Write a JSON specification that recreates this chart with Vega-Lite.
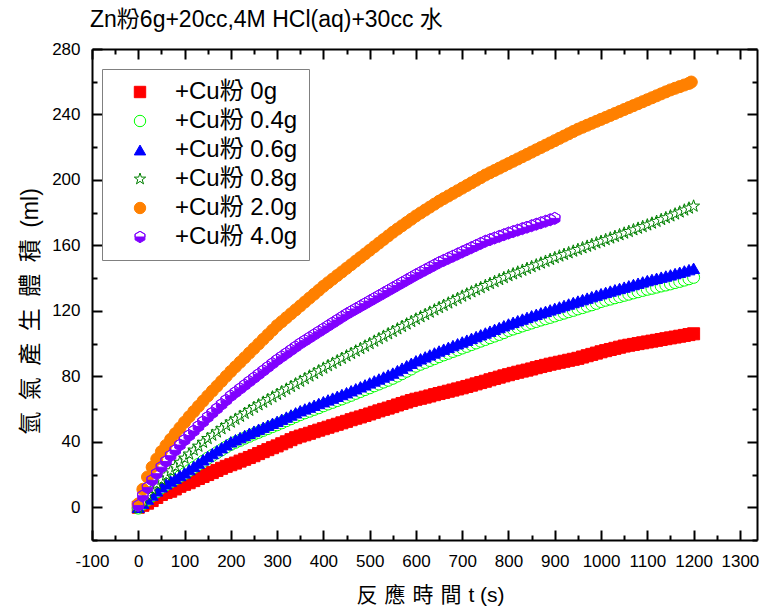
{
  "$schema": "https://vega.github.io/schema/vega-lite/v6.json",
  "autosize": "none",
  "width": 665,
  "height": 491,
  "padding": {"left": 92, "top": 49, "right": 7, "bottom": 68},
  "background": "white",
  "title": {
    "text": "Zn粉6g+20cc,4M HCl(aq)+30cc 水",
    "anchor": "start",
    "frame": "group",
    "font": "Liberation Sans, Noto Sans CJK TC",
    "fontSize": 23,
    "fontWeight": "normal",
    "color": "black",
    "baseline": "alphabetic",
    "offset": -10,
    "dx": -2
  },
  "config": {
    "view": {"stroke": null},
    "legend": {
      "orient": "none",
      "legendX": 10,
      "legendY": 20,
      "fillColor": "white",
      "strokeColor": "#808080",
      "padding": 11,
      "labelFont": "Liberation Sans, Noto Sans CJK TC",
      "labelFontSize": 24,
      "labelColor": "black",
      "symbolOffset": 15,
      "labelOffset": 23,
      "rowPadding": 5,
      "symbolSize": 130,
      "symbolStrokeWidth": 1,
      "title": null
    }
  },
  "resolve": {"axis": {"x": "independent", "y": "independent"}},
  "layer": [
    {
      "data": {
        "values": [
          {"g":"0g","t":0,"v":0},{"g":"0g","t":10,"v":1.2},{"g":"0g","t":20,"v":2.5},{"g":"0g","t":30,"v":4.1},{"g":"0g","t":40,"v":6.0},{"g":"0g","t":50,"v":7.8},{"g":"0g","t":60,"v":9.0},{"g":"0g","t":70,"v":9.8},{"g":"0g","t":80,"v":11.2},{"g":"0g","t":90,"v":12.8},
          {"g":"0g","t":100,"v":14.0},{"g":"0g","t":110,"v":15.0},{"g":"0g","t":120,"v":16.3},{"g":"0g","t":130,"v":17.6},{"g":"0g","t":140,"v":18.8},{"g":"0g","t":150,"v":20.0},{"g":"0g","t":160,"v":21.2},{"g":"0g","t":170,"v":22.5},{"g":"0g","t":180,"v":23.8},{"g":"0g","t":190,"v":25.0},
          {"g":"0g","t":200,"v":26.0},{"g":"0g","t":210,"v":27.0},{"g":"0g","t":220,"v":28.2},{"g":"0g","t":230,"v":29.3},{"g":"0g","t":240,"v":30.4},{"g":"0g","t":250,"v":31.5},{"g":"0g","t":260,"v":32.8},{"g":"0g","t":270,"v":34.0},{"g":"0g","t":280,"v":35.2},{"g":"0g","t":290,"v":36.4},
          {"g":"0g","t":300,"v":37.5},{"g":"0g","t":310,"v":38.8},{"g":"0g","t":320,"v":40.0},{"g":"0g","t":330,"v":41.3},{"g":"0g","t":340,"v":42.5},{"g":"0g","t":350,"v":43.5},{"g":"0g","t":360,"v":44.3},{"g":"0g","t":370,"v":45.2},{"g":"0g","t":380,"v":46.2},{"g":"0g","t":390,"v":47.1},
          {"g":"0g","t":400,"v":48.0},{"g":"0g","t":410,"v":48.9},{"g":"0g","t":420,"v":49.8},{"g":"0g","t":430,"v":50.7},{"g":"0g","t":440,"v":51.6},{"g":"0g","t":450,"v":52.5},{"g":"0g","t":460,"v":53.5},{"g":"0g","t":470,"v":54.4},{"g":"0g","t":480,"v":55.2},{"g":"0g","t":490,"v":56.1},
          {"g":"0g","t":500,"v":57.0},{"g":"0g","t":510,"v":58.0},{"g":"0g","t":520,"v":58.9},{"g":"0g","t":530,"v":59.8},{"g":"0g","t":540,"v":60.6},{"g":"0g","t":550,"v":61.5},{"g":"0g","t":560,"v":62.5},{"g":"0g","t":570,"v":63.4},{"g":"0g","t":580,"v":64.3},{"g":"0g","t":590,"v":65.2},
          {"g":"0g","t":600,"v":66.0},{"g":"0g","t":610,"v":66.6},{"g":"0g","t":620,"v":67.3},{"g":"0g","t":630,"v":68.0},{"g":"0g","t":640,"v":68.8},{"g":"0g","t":650,"v":69.5},{"g":"0g","t":660,"v":70.2},{"g":"0g","t":670,"v":70.9},{"g":"0g","t":680,"v":71.6},{"g":"0g","t":690,"v":72.3},
          {"g":"0g","t":700,"v":73.0},{"g":"0g","t":710,"v":73.8},{"g":"0g","t":720,"v":74.6},{"g":"0g","t":730,"v":75.4},{"g":"0g","t":740,"v":76.2},{"g":"0g","t":750,"v":77.0},{"g":"0g","t":760,"v":77.9},{"g":"0g","t":770,"v":78.7},{"g":"0g","t":780,"v":79.5},{"g":"0g","t":790,"v":80.3},
          {"g":"0g","t":800,"v":81.0},{"g":"0g","t":810,"v":81.8},{"g":"0g","t":820,"v":82.5},{"g":"0g","t":830,"v":83.2},{"g":"0g","t":840,"v":83.8},{"g":"0g","t":850,"v":84.5},{"g":"0g","t":860,"v":85.3},{"g":"0g","t":870,"v":86.0},{"g":"0g","t":880,"v":86.7},{"g":"0g","t":890,"v":87.4},
          {"g":"0g","t":900,"v":88.0},{"g":"0g","t":910,"v":88.6},{"g":"0g","t":920,"v":89.2},{"g":"0g","t":930,"v":89.8},{"g":"0g","t":940,"v":90.4},{"g":"0g","t":950,"v":91.0},{"g":"0g","t":960,"v":91.8},{"g":"0g","t":970,"v":92.6},{"g":"0g","t":980,"v":93.4},{"g":"0g","t":990,"v":94.2},
          {"g":"0g","t":1000,"v":95.0},{"g":"0g","t":1010,"v":95.7},{"g":"0g","t":1020,"v":96.4},{"g":"0g","t":1030,"v":97.1},{"g":"0g","t":1040,"v":97.8},{"g":"0g","t":1050,"v":98.5},{"g":"0g","t":1060,"v":99.0},{"g":"0g","t":1070,"v":99.5},{"g":"0g","t":1080,"v":100.0},{"g":"0g","t":1090,"v":100.5},
          {"g":"0g","t":1100,"v":101.0},{"g":"0g","t":1110,"v":101.5},{"g":"0g","t":1120,"v":102.0},{"g":"0g","t":1130,"v":102.5},{"g":"0g","t":1140,"v":103.0},{"g":"0g","t":1150,"v":103.5},{"g":"0g","t":1160,"v":104.0},{"g":"0g","t":1170,"v":104.5},{"g":"0g","t":1180,"v":105.0},{"g":"0g","t":1190,"v":105.5},{"g":"0g","t":1200,"v":106.0},

          {"g":"0.4g","t":0,"v":-0.5},{"g":"0.4g","t":10,"v":2.0},{"g":"0.4g","t":20,"v":4.5},{"g":"0.4g","t":30,"v":7.0},{"g":"0.4g","t":40,"v":9.5},{"g":"0.4g","t":50,"v":12.0},{"g":"0.4g","t":60,"v":13.8},{"g":"0.4g","t":70,"v":15.5},{"g":"0.4g","t":80,"v":17.2},{"g":"0.4g","t":90,"v":18.9},
          {"g":"0.4g","t":100,"v":20.5},{"g":"0.4g","t":110,"v":22.4},{"g":"0.4g","t":120,"v":24.3},{"g":"0.4g","t":130,"v":26.2},{"g":"0.4g","t":140,"v":28.1},{"g":"0.4g","t":150,"v":30.0},{"g":"0.4g","t":160,"v":31.7},{"g":"0.4g","t":170,"v":33.4},{"g":"0.4g","t":180,"v":35.1},{"g":"0.4g","t":190,"v":36.8},
          {"g":"0.4g","t":200,"v":38.4},{"g":"0.4g","t":210,"v":39.7},{"g":"0.4g","t":220,"v":40.9},{"g":"0.4g","t":230,"v":42.2},{"g":"0.4g","t":240,"v":43.4},{"g":"0.4g","t":250,"v":44.7},{"g":"0.4g","t":260,"v":45.8},{"g":"0.4g","t":270,"v":47.0},{"g":"0.4g","t":280,"v":48.1},{"g":"0.4g","t":290,"v":49.3},
          {"g":"0.4g","t":300,"v":50.4},{"g":"0.4g","t":310,"v":51.6},{"g":"0.4g","t":320,"v":52.9},{"g":"0.4g","t":330,"v":54.1},{"g":"0.4g","t":340,"v":55.4},{"g":"0.4g","t":350,"v":56.6},{"g":"0.4g","t":360,"v":57.7},{"g":"0.4g","t":370,"v":58.7},{"g":"0.4g","t":380,"v":59.8},{"g":"0.4g","t":390,"v":60.8},
          {"g":"0.4g","t":400,"v":62.0},{"g":"0.4g","t":410,"v":63.1},{"g":"0.4g","t":420,"v":64.1},{"g":"0.4g","t":430,"v":65.2},{"g":"0.4g","t":440,"v":66.2},{"g":"0.4g","t":450,"v":67.3},{"g":"0.4g","t":460,"v":68.4},{"g":"0.4g","t":470,"v":69.6},{"g":"0.4g","t":480,"v":70.7},{"g":"0.4g","t":490,"v":71.9},
          {"g":"0.4g","t":500,"v":73.0},{"g":"0.4g","t":510,"v":74.2},{"g":"0.4g","t":520,"v":75.3},{"g":"0.4g","t":530,"v":76.5},{"g":"0.4g","t":540,"v":77.6},{"g":"0.4g","t":550,"v":78.8},{"g":"0.4g","t":560,"v":80.2},{"g":"0.4g","t":570,"v":81.6},{"g":"0.4g","t":580,"v":83.1},{"g":"0.4g","t":590,"v":84.5},
          {"g":"0.4g","t":600,"v":86.2},{"g":"0.4g","t":610,"v":87.4},{"g":"0.4g","t":620,"v":88.5},{"g":"0.4g","t":630,"v":89.7},{"g":"0.4g","t":640,"v":90.8},{"g":"0.4g","t":650,"v":92.0},{"g":"0.4g","t":660,"v":93.1},{"g":"0.4g","t":670,"v":94.1},{"g":"0.4g","t":680,"v":95.2},{"g":"0.4g","t":690,"v":96.2},
          {"g":"0.4g","t":700,"v":97.3},{"g":"0.4g","t":710,"v":98.3},{"g":"0.4g","t":720,"v":99.4},{"g":"0.4g","t":730,"v":100.4},{"g":"0.4g","t":740,"v":101.5},{"g":"0.4g","t":750,"v":102.5},{"g":"0.4g","t":760,"v":103.6},{"g":"0.4g","t":770,"v":104.6},{"g":"0.4g","t":780,"v":105.6},{"g":"0.4g","t":790,"v":106.7},
          {"g":"0.4g","t":800,"v":108.0},{"g":"0.4g","t":810,"v":108.9},{"g":"0.4g","t":820,"v":109.8},{"g":"0.4g","t":830,"v":110.8},{"g":"0.4g","t":840,"v":111.7},{"g":"0.4g","t":850,"v":112.6},{"g":"0.4g","t":860,"v":113.5},{"g":"0.4g","t":870,"v":114.4},{"g":"0.4g","t":880,"v":115.2},{"g":"0.4g","t":890,"v":116.0},
          {"g":"0.4g","t":900,"v":116.9},{"g":"0.4g","t":910,"v":117.8},{"g":"0.4g","t":920,"v":118.6},{"g":"0.4g","t":930,"v":119.5},{"g":"0.4g","t":940,"v":120.3},{"g":"0.4g","t":950,"v":121.2},{"g":"0.4g","t":960,"v":122.0},{"g":"0.4g","t":970,"v":122.9},{"g":"0.4g","t":980,"v":123.7},{"g":"0.4g","t":990,"v":124.6},
          {"g":"0.4g","t":1000,"v":125.7},{"g":"0.4g","t":1010,"v":126.5},{"g":"0.4g","t":1020,"v":127.2},{"g":"0.4g","t":1030,"v":128.0},{"g":"0.4g","t":1040,"v":128.7},{"g":"0.4g","t":1050,"v":129.5},{"g":"0.4g","t":1060,"v":130.2},{"g":"0.4g","t":1070,"v":131.0},{"g":"0.4g","t":1080,"v":131.7},{"g":"0.4g","t":1090,"v":132.5},
          {"g":"0.4g","t":1100,"v":133.2},{"g":"0.4g","t":1110,"v":133.8},{"g":"0.4g","t":1120,"v":134.5},{"g":"0.4g","t":1130,"v":135.2},{"g":"0.4g","t":1140,"v":135.8},{"g":"0.4g","t":1150,"v":136.5},{"g":"0.4g","t":1160,"v":137.3},{"g":"0.4g","t":1170,"v":138.0},{"g":"0.4g","t":1180,"v":138.8},{"g":"0.4g","t":1190,"v":139.6},{"g":"0.4g","t":1200,"v":140.5},

          {"g":"0.6g","t":0,"v":0},{"g":"0.6g","t":10,"v":2.5},{"g":"0.6g","t":20,"v":5.0},{"g":"0.6g","t":30,"v":7.5},{"g":"0.6g","t":40,"v":10.0},{"g":"0.6g","t":50,"v":12.5},{"g":"0.6g","t":60,"v":14.3},{"g":"0.6g","t":70,"v":16.0},{"g":"0.6g","t":80,"v":17.7},{"g":"0.6g","t":90,"v":19.4},
          {"g":"0.6g","t":100,"v":21.0},{"g":"0.6g","t":110,"v":23.0},{"g":"0.6g","t":120,"v":25.0},{"g":"0.6g","t":130,"v":27.0},{"g":"0.6g","t":140,"v":29.0},{"g":"0.6g","t":150,"v":31.0},{"g":"0.6g","t":160,"v":32.8},{"g":"0.6g","t":170,"v":34.6},{"g":"0.6g","t":180,"v":36.4},{"g":"0.6g","t":190,"v":38.2},
          {"g":"0.6g","t":200,"v":40.0},{"g":"0.6g","t":210,"v":41.3},{"g":"0.6g","t":220,"v":42.6},{"g":"0.6g","t":230,"v":43.9},{"g":"0.6g","t":240,"v":45.2},{"g":"0.6g","t":250,"v":46.5},{"g":"0.6g","t":260,"v":47.7},{"g":"0.6g","t":270,"v":48.9},{"g":"0.6g","t":280,"v":50.1},{"g":"0.6g","t":290,"v":51.3},
          {"g":"0.6g","t":300,"v":52.5},{"g":"0.6g","t":310,"v":53.8},{"g":"0.6g","t":320,"v":55.1},{"g":"0.6g","t":330,"v":56.4},{"g":"0.6g","t":340,"v":57.7},{"g":"0.6g","t":350,"v":59.0},{"g":"0.6g","t":360,"v":60.1},{"g":"0.6g","t":370,"v":61.2},{"g":"0.6g","t":380,"v":62.3},{"g":"0.6g","t":390,"v":63.4},
          {"g":"0.6g","t":400,"v":64.5},{"g":"0.6g","t":410,"v":65.6},{"g":"0.6g","t":420,"v":66.7},{"g":"0.6g","t":430,"v":67.8},{"g":"0.6g","t":440,"v":68.9},{"g":"0.6g","t":450,"v":70.0},{"g":"0.6g","t":460,"v":71.2},{"g":"0.6g","t":470,"v":72.4},{"g":"0.6g","t":480,"v":73.6},{"g":"0.6g","t":490,"v":74.8},
          {"g":"0.6g","t":500,"v":76.0},{"g":"0.6g","t":510,"v":77.2},{"g":"0.6g","t":520,"v":78.4},{"g":"0.6g","t":530,"v":79.6},{"g":"0.6g","t":540,"v":80.8},{"g":"0.6g","t":550,"v":82.0},{"g":"0.6g","t":560,"v":83.5},{"g":"0.6g","t":570,"v":85.0},{"g":"0.6g","t":580,"v":86.5},{"g":"0.6g","t":590,"v":88.0},
          {"g":"0.6g","t":600,"v":89.5},{"g":"0.6g","t":610,"v":90.7},{"g":"0.6g","t":620,"v":91.9},{"g":"0.6g","t":630,"v":93.1},{"g":"0.6g","t":640,"v":94.3},{"g":"0.6g","t":650,"v":95.5},{"g":"0.6g","t":660,"v":96.6},{"g":"0.6g","t":670,"v":97.7},{"g":"0.6g","t":680,"v":98.8},{"g":"0.6g","t":690,"v":99.9},
          {"g":"0.6g","t":700,"v":101.0},{"g":"0.6g","t":710,"v":102.1},{"g":"0.6g","t":720,"v":103.2},{"g":"0.6g","t":730,"v":104.3},{"g":"0.6g","t":740,"v":105.4},{"g":"0.6g","t":750,"v":106.5},{"g":"0.6g","t":760,"v":107.6},{"g":"0.6g","t":770,"v":108.7},{"g":"0.6g","t":780,"v":109.8},{"g":"0.6g","t":790,"v":110.9},
          {"g":"0.6g","t":800,"v":112.0},{"g":"0.6g","t":810,"v":113.0},{"g":"0.6g","t":820,"v":114.0},{"g":"0.6g","t":830,"v":115.0},{"g":"0.6g","t":840,"v":116.0},{"g":"0.6g","t":850,"v":117.0},{"g":"0.6g","t":860,"v":117.9},{"g":"0.6g","t":870,"v":118.8},{"g":"0.6g","t":880,"v":119.7},{"g":"0.6g","t":890,"v":120.6},
          {"g":"0.6g","t":900,"v":121.5},{"g":"0.6g","t":910,"v":122.4},{"g":"0.6g","t":920,"v":123.3},{"g":"0.6g","t":930,"v":124.2},{"g":"0.6g","t":940,"v":125.1},{"g":"0.6g","t":950,"v":126.0},{"g":"0.6g","t":960,"v":126.9},{"g":"0.6g","t":970,"v":127.8},{"g":"0.6g","t":980,"v":128.7},{"g":"0.6g","t":990,"v":129.6},
          {"g":"0.6g","t":1000,"v":130.5},{"g":"0.6g","t":1010,"v":131.3},{"g":"0.6g","t":1020,"v":132.1},{"g":"0.6g","t":1030,"v":132.9},{"g":"0.6g","t":1040,"v":133.7},{"g":"0.6g","t":1050,"v":134.5},{"g":"0.6g","t":1060,"v":135.3},{"g":"0.6g","t":1070,"v":136.1},{"g":"0.6g","t":1080,"v":136.9},{"g":"0.6g","t":1090,"v":137.7},
          {"g":"0.6g","t":1100,"v":138.5},{"g":"0.6g","t":1110,"v":139.2},{"g":"0.6g","t":1120,"v":139.9},{"g":"0.6g","t":1130,"v":140.6},{"g":"0.6g","t":1140,"v":141.3},{"g":"0.6g","t":1150,"v":142.0},{"g":"0.6g","t":1160,"v":142.8},{"g":"0.6g","t":1170,"v":143.6},{"g":"0.6g","t":1180,"v":144.4},{"g":"0.6g","t":1190,"v":145.2},{"g":"0.6g","t":1200,"v":146.0},

          {"g":"0.8g","t":0,"v":0},{"g":"0.8g","t":10,"v":4.0},{"g":"0.8g","t":20,"v":7.8},{"g":"0.8g","t":30,"v":11.2},{"g":"0.8g","t":40,"v":14.3},{"g":"0.8g","t":50,"v":17.0},{"g":"0.8g","t":60,"v":19.7},{"g":"0.8g","t":70,"v":22.3},{"g":"0.8g","t":80,"v":24.9},{"g":"0.8g","t":90,"v":27.5},
          {"g":"0.8g","t":100,"v":30.0},{"g":"0.8g","t":110,"v":32.5},{"g":"0.8g","t":120,"v":34.9},{"g":"0.8g","t":130,"v":37.3},{"g":"0.8g","t":140,"v":39.7},{"g":"0.8g","t":150,"v":42.0},{"g":"0.8g","t":160,"v":44.0},{"g":"0.8g","t":170,"v":46.0},{"g":"0.8g","t":180,"v":48.0},{"g":"0.8g","t":190,"v":50.0},
          {"g":"0.8g","t":200,"v":52.0},{"g":"0.8g","t":210,"v":53.8},{"g":"0.8g","t":220,"v":55.6},{"g":"0.8g","t":230,"v":57.4},{"g":"0.8g","t":240,"v":59.2},{"g":"0.8g","t":250,"v":61.0},{"g":"0.8g","t":260,"v":62.6},{"g":"0.8g","t":270,"v":64.2},{"g":"0.8g","t":280,"v":65.8},{"g":"0.8g","t":290,"v":67.4},
          {"g":"0.8g","t":300,"v":69.0},{"g":"0.8g","t":310,"v":70.6},{"g":"0.8g","t":320,"v":72.2},{"g":"0.8g","t":330,"v":73.8},{"g":"0.8g","t":340,"v":75.4},{"g":"0.8g","t":350,"v":77.0},{"g":"0.8g","t":360,"v":78.6},{"g":"0.8g","t":370,"v":80.2},{"g":"0.8g","t":380,"v":81.8},{"g":"0.8g","t":390,"v":83.4},
          {"g":"0.8g","t":400,"v":85.0},{"g":"0.8g","t":410,"v":86.5},{"g":"0.8g","t":420,"v":88.0},{"g":"0.8g","t":430,"v":89.5},{"g":"0.8g","t":440,"v":91.0},{"g":"0.8g","t":450,"v":92.5},{"g":"0.8g","t":460,"v":94.0},{"g":"0.8g","t":470,"v":95.5},{"g":"0.8g","t":480,"v":97.0},{"g":"0.8g","t":490,"v":98.5},
          {"g":"0.8g","t":500,"v":100.0},{"g":"0.8g","t":510,"v":101.5},{"g":"0.8g","t":520,"v":103.0},{"g":"0.8g","t":530,"v":104.5},{"g":"0.8g","t":540,"v":106.0},{"g":"0.8g","t":550,"v":107.5},{"g":"0.8g","t":560,"v":109.0},{"g":"0.8g","t":570,"v":110.5},{"g":"0.8g","t":580,"v":112.0},{"g":"0.8g","t":590,"v":113.5},
          {"g":"0.8g","t":600,"v":115.0},{"g":"0.8g","t":610,"v":116.4},{"g":"0.8g","t":620,"v":117.8},{"g":"0.8g","t":630,"v":119.2},{"g":"0.8g","t":640,"v":120.6},{"g":"0.8g","t":650,"v":122.0},{"g":"0.8g","t":660,"v":123.4},{"g":"0.8g","t":670,"v":124.8},{"g":"0.8g","t":680,"v":126.2},{"g":"0.8g","t":690,"v":127.6},
          {"g":"0.8g","t":700,"v":129.0},{"g":"0.8g","t":710,"v":130.3},{"g":"0.8g","t":720,"v":131.6},{"g":"0.8g","t":730,"v":132.9},{"g":"0.8g","t":740,"v":134.2},{"g":"0.8g","t":750,"v":135.5},{"g":"0.8g","t":760,"v":136.7},{"g":"0.8g","t":770,"v":137.9},{"g":"0.8g","t":780,"v":139.1},{"g":"0.8g","t":790,"v":140.3},
          {"g":"0.8g","t":800,"v":141.5},{"g":"0.8g","t":810,"v":142.6},{"g":"0.8g","t":820,"v":143.7},{"g":"0.8g","t":830,"v":144.8},{"g":"0.8g","t":840,"v":145.9},{"g":"0.8g","t":850,"v":147.0},{"g":"0.8g","t":860,"v":148.1},{"g":"0.8g","t":870,"v":149.2},{"g":"0.8g","t":880,"v":150.3},{"g":"0.8g","t":890,"v":151.4},
          {"g":"0.8g","t":900,"v":152.5},{"g":"0.8g","t":910,"v":153.5},{"g":"0.8g","t":920,"v":154.5},{"g":"0.8g","t":930,"v":155.5},{"g":"0.8g","t":940,"v":156.5},{"g":"0.8g","t":950,"v":157.5},{"g":"0.8g","t":960,"v":158.5},{"g":"0.8g","t":970,"v":159.5},{"g":"0.8g","t":980,"v":160.5},{"g":"0.8g","t":990,"v":161.5},
          {"g":"0.8g","t":1000,"v":162.5},{"g":"0.8g","t":1010,"v":163.5},{"g":"0.8g","t":1020,"v":164.5},{"g":"0.8g","t":1030,"v":165.5},{"g":"0.8g","t":1040,"v":166.5},{"g":"0.8g","t":1050,"v":167.5},{"g":"0.8g","t":1060,"v":168.5},{"g":"0.8g","t":1070,"v":169.5},{"g":"0.8g","t":1080,"v":170.5},{"g":"0.8g","t":1090,"v":171.5},
          {"g":"0.8g","t":1100,"v":172.5},{"g":"0.8g","t":1110,"v":173.6},{"g":"0.8g","t":1120,"v":174.7},{"g":"0.8g","t":1130,"v":175.8},{"g":"0.8g","t":1140,"v":176.9},{"g":"0.8g","t":1150,"v":178.0},{"g":"0.8g","t":1160,"v":179.2},{"g":"0.8g","t":1170,"v":180.4},{"g":"0.8g","t":1180,"v":181.6},{"g":"0.8g","t":1190,"v":182.8},{"g":"0.8g","t":1200,"v":184.0},

          {"g":"2.0g","t":0,"v":2.0},{"g":"2.0g","t":10,"v":11.0},{"g":"2.0g","t":20,"v":18.5},{"g":"2.0g","t":30,"v":24.5},{"g":"2.0g","t":40,"v":29.5},{"g":"2.0g","t":50,"v":34.0},{"g":"2.0g","t":60,"v":37.8},{"g":"2.0g","t":70,"v":41.5},{"g":"2.0g","t":80,"v":45.0},{"g":"2.0g","t":90,"v":48.5},
          {"g":"2.0g","t":100,"v":52.0},{"g":"2.0g","t":110,"v":55.3},{"g":"2.0g","t":120,"v":58.5},{"g":"2.0g","t":130,"v":61.7},{"g":"2.0g","t":140,"v":64.9},{"g":"2.0g","t":150,"v":68.0},{"g":"2.0g","t":160,"v":71.0},{"g":"2.0g","t":170,"v":74.0},{"g":"2.0g","t":180,"v":77.0},{"g":"2.0g","t":190,"v":80.0},
          {"g":"2.0g","t":200,"v":83.0},{"g":"2.0g","t":210,"v":85.8},{"g":"2.0g","t":220,"v":88.6},{"g":"2.0g","t":230,"v":91.4},{"g":"2.0g","t":240,"v":94.2},{"g":"2.0g","t":250,"v":97.0},{"g":"2.0g","t":260,"v":99.8},{"g":"2.0g","t":270,"v":102.6},{"g":"2.0g","t":280,"v":105.4},{"g":"2.0g","t":290,"v":108.2},
          {"g":"2.0g","t":300,"v":111.0},{"g":"2.0g","t":310,"v":113.4},{"g":"2.0g","t":320,"v":115.8},{"g":"2.0g","t":330,"v":118.2},{"g":"2.0g","t":340,"v":120.6},{"g":"2.0g","t":350,"v":123.0},{"g":"2.0g","t":360,"v":125.4},{"g":"2.0g","t":370,"v":127.8},{"g":"2.0g","t":380,"v":130.2},{"g":"2.0g","t":390,"v":132.6},
          {"g":"2.0g","t":400,"v":135.0},{"g":"2.0g","t":410,"v":137.2},{"g":"2.0g","t":420,"v":139.4},{"g":"2.0g","t":430,"v":141.6},{"g":"2.0g","t":440,"v":143.8},{"g":"2.0g","t":450,"v":146.0},{"g":"2.0g","t":460,"v":148.2},{"g":"2.0g","t":470,"v":150.4},{"g":"2.0g","t":480,"v":152.6},{"g":"2.0g","t":490,"v":154.8},
          {"g":"2.0g","t":500,"v":157.0},{"g":"2.0g","t":510,"v":159.2},{"g":"2.0g","t":520,"v":161.4},{"g":"2.0g","t":530,"v":163.6},{"g":"2.0g","t":540,"v":165.8},{"g":"2.0g","t":550,"v":168.0},{"g":"2.0g","t":560,"v":170.0},{"g":"2.0g","t":570,"v":172.0},{"g":"2.0g","t":580,"v":174.0},{"g":"2.0g","t":590,"v":176.0},
          {"g":"2.0g","t":600,"v":178.0},{"g":"2.0g","t":610,"v":179.8},{"g":"2.0g","t":620,"v":181.6},{"g":"2.0g","t":630,"v":183.4},{"g":"2.0g","t":640,"v":185.2},{"g":"2.0g","t":650,"v":187.0},{"g":"2.0g","t":660,"v":188.6},{"g":"2.0g","t":670,"v":190.2},{"g":"2.0g","t":680,"v":191.8},{"g":"2.0g","t":690,"v":193.4},
          {"g":"2.0g","t":700,"v":195.0},{"g":"2.0g","t":710,"v":196.6},{"g":"2.0g","t":720,"v":198.2},{"g":"2.0g","t":730,"v":199.8},{"g":"2.0g","t":740,"v":201.4},{"g":"2.0g","t":750,"v":203.0},{"g":"2.0g","t":760,"v":204.4},{"g":"2.0g","t":770,"v":205.8},{"g":"2.0g","t":780,"v":207.2},{"g":"2.0g","t":790,"v":208.6},
          {"g":"2.0g","t":800,"v":210.0},{"g":"2.0g","t":810,"v":211.4},{"g":"2.0g","t":820,"v":212.8},{"g":"2.0g","t":830,"v":214.2},{"g":"2.0g","t":840,"v":215.6},{"g":"2.0g","t":850,"v":217.0},{"g":"2.0g","t":860,"v":218.4},{"g":"2.0g","t":870,"v":219.8},{"g":"2.0g","t":880,"v":221.2},{"g":"2.0g","t":890,"v":222.6},
          {"g":"2.0g","t":900,"v":224.0},{"g":"2.0g","t":910,"v":225.4},{"g":"2.0g","t":920,"v":226.8},{"g":"2.0g","t":930,"v":228.2},{"g":"2.0g","t":940,"v":229.6},{"g":"2.0g","t":950,"v":231.0},{"g":"2.0g","t":960,"v":232.2},{"g":"2.0g","t":970,"v":233.4},{"g":"2.0g","t":980,"v":234.6},{"g":"2.0g","t":990,"v":235.8},
          {"g":"2.0g","t":1000,"v":237.0},{"g":"2.0g","t":1010,"v":238.2},{"g":"2.0g","t":1020,"v":239.4},{"g":"2.0g","t":1030,"v":240.6},{"g":"2.0g","t":1040,"v":241.8},{"g":"2.0g","t":1050,"v":243.0},{"g":"2.0g","t":1060,"v":244.2},{"g":"2.0g","t":1070,"v":245.4},{"g":"2.0g","t":1080,"v":246.6},{"g":"2.0g","t":1090,"v":247.8},
          {"g":"2.0g","t":1100,"v":249.0},{"g":"2.0g","t":1110,"v":250.2},{"g":"2.0g","t":1120,"v":251.4},{"g":"2.0g","t":1130,"v":252.6},{"g":"2.0g","t":1140,"v":253.8},{"g":"2.0g","t":1150,"v":255.0},{"g":"2.0g","t":1160,"v":256.0},{"g":"2.0g","t":1170,"v":257.0},{"g":"2.0g","t":1180,"v":258.0},{"g":"2.0g","t":1190,"v":259.0},{"g":"2.0g","t":1195,"v":259.8},

          {"g":"4.0g","t":0,"v":1.0},{"g":"4.0g","t":10,"v":7.0},{"g":"4.0g","t":20,"v":12.0},{"g":"4.0g","t":30,"v":16.5},{"g":"4.0g","t":40,"v":20.5},{"g":"4.0g","t":50,"v":24.5},{"g":"4.0g","t":60,"v":28.0},{"g":"4.0g","t":70,"v":31.5},{"g":"4.0g","t":80,"v":34.8},{"g":"4.0g","t":90,"v":38.0},
          {"g":"4.0g","t":100,"v":41.0},{"g":"4.0g","t":110,"v":43.8},{"g":"4.0g","t":120,"v":46.6},{"g":"4.0g","t":130,"v":49.4},{"g":"4.0g","t":140,"v":52.2},{"g":"4.0g","t":150,"v":55.0},{"g":"4.0g","t":160,"v":57.6},{"g":"4.0g","t":170,"v":60.2},{"g":"4.0g","t":180,"v":62.8},{"g":"4.0g","t":190,"v":65.4},
          {"g":"4.0g","t":200,"v":68.0},{"g":"4.0g","t":210,"v":70.2},{"g":"4.0g","t":220,"v":72.4},{"g":"4.0g","t":230,"v":74.6},{"g":"4.0g","t":240,"v":76.8},{"g":"4.0g","t":250,"v":79.0},{"g":"4.0g","t":260,"v":81.2},{"g":"4.0g","t":270,"v":83.4},{"g":"4.0g","t":280,"v":85.6},{"g":"4.0g","t":290,"v":87.8},
          {"g":"4.0g","t":300,"v":90.0},{"g":"4.0g","t":310,"v":92.0},{"g":"4.0g","t":320,"v":94.0},{"g":"4.0g","t":330,"v":96.0},{"g":"4.0g","t":340,"v":98.0},{"g":"4.0g","t":350,"v":100.0},{"g":"4.0g","t":360,"v":101.8},{"g":"4.0g","t":370,"v":103.6},{"g":"4.0g","t":380,"v":105.4},{"g":"4.0g","t":390,"v":107.2},
          {"g":"4.0g","t":400,"v":109.0},{"g":"4.0g","t":410,"v":110.8},{"g":"4.0g","t":420,"v":112.6},{"g":"4.0g","t":430,"v":114.4},{"g":"4.0g","t":440,"v":116.2},{"g":"4.0g","t":450,"v":118.0},{"g":"4.0g","t":460,"v":119.6},{"g":"4.0g","t":470,"v":121.2},{"g":"4.0g","t":480,"v":122.8},{"g":"4.0g","t":490,"v":124.4},
          {"g":"4.0g","t":500,"v":126.0},{"g":"4.0g","t":510,"v":127.6},{"g":"4.0g","t":520,"v":129.2},{"g":"4.0g","t":530,"v":130.8},{"g":"4.0g","t":540,"v":132.4},{"g":"4.0g","t":550,"v":134.0},{"g":"4.0g","t":560,"v":135.6},{"g":"4.0g","t":570,"v":137.2},{"g":"4.0g","t":580,"v":138.8},{"g":"4.0g","t":590,"v":140.4},
          {"g":"4.0g","t":600,"v":142.0},{"g":"4.0g","t":610,"v":143.5},{"g":"4.0g","t":620,"v":145.0},{"g":"4.0g","t":630,"v":146.5},{"g":"4.0g","t":640,"v":148.0},{"g":"4.0g","t":650,"v":149.5},{"g":"4.0g","t":660,"v":150.8},{"g":"4.0g","t":670,"v":152.1},{"g":"4.0g","t":680,"v":153.4},{"g":"4.0g","t":690,"v":154.7},
          {"g":"4.0g","t":700,"v":156.0},{"g":"4.0g","t":710,"v":157.3},{"g":"4.0g","t":720,"v":158.6},{"g":"4.0g","t":730,"v":159.9},{"g":"4.0g","t":740,"v":161.2},{"g":"4.0g","t":750,"v":162.5},{"g":"4.0g","t":760,"v":163.5},{"g":"4.0g","t":770,"v":164.5},{"g":"4.0g","t":780,"v":165.5},{"g":"4.0g","t":790,"v":166.5},
          {"g":"4.0g","t":800,"v":167.5},{"g":"4.0g","t":810,"v":168.4},{"g":"4.0g","t":820,"v":169.3},{"g":"4.0g","t":830,"v":170.2},{"g":"4.0g","t":840,"v":171.1},{"g":"4.0g","t":850,"v":172.0},{"g":"4.0g","t":860,"v":172.9},{"g":"4.0g","t":870,"v":173.8},{"g":"4.0g","t":880,"v":174.7},{"g":"4.0g","t":890,"v":175.6},{"g":"4.0g","t":900,"v":176.5}
        ]
      },
      "mark": {"type": "point", "size": 145, "strokeWidth": 1, "opacity": 1},
      "encoding": {
        "x": {
          "field": "t",
          "type": "quantitative",
          "scale": {"domain": [-100, 1337], "nice": false, "zero": false},
          "axis": {
            "orient": "bottom",
            "title": "反\u2004應\u2004時\u2004間\u2004t (s)",
            "values": [-100,-50,0,50,100,150,200,250,300,350,400,450,500,550,600,650,700,750,800,850,900,950,1000,1050,1100,1150,1200,1250,1300],
            "labelExpr": "datum.value % 100 === 0 ? '' + datum.value : ''",
            "tickSize": {"condition": {"test": "datum.value % 100 === 0", "value": -10}, "value": -5},
            "tickWidth": 2,
            "tickColor": "black",
            "domainColor": "black",
            "domainWidth": 2,
            "grid": false,
            "labelFont": "Liberation Sans",
            "labelFontSize": 17,
            "labelColor": "black",
            "labelPadding": 23,
            "labelFlush": false,
            "labelOverlap": false,
            "titleFont": "Liberation Sans, Noto Sans CJK TC",
            "titleFontSize": 21,
            "titleFontWeight": "normal",
            "titleColor": "black",
            "titlePadding": 10,
            "titleX": 338
          }
        },
        "y": {
          "field": "v",
          "type": "quantitative",
          "scale": {"domain": [-20, 280], "nice": false, "zero": false},
          "axis": {
            "orient": "left",
            "title": "氫\u2002氣\u2002產\u2002生\u2002體\u2002積\u2002(ml)",
            "values": [-20,0,20,40,60,80,100,120,140,160,180,200,220,240,260,280],
            "labelExpr": "datum.value % 40 === 0 && datum.value >= 0 ? '' + datum.value : ''",
            "tickSize": {"condition": {"test": "datum.value % 40 === 0", "value": -10}, "value": -5},
            "tickWidth": 2,
            "tickColor": "black",
            "domainColor": "black",
            "domainWidth": 2,
            "grid": false,
            "labelFont": "Liberation Sans",
            "labelFontSize": 17,
            "labelColor": "black",
            "labelPadding": 22,
            "labelFlush": false,
            "labelOverlap": false,
            "titleFont": "Liberation Sans, Noto Sans CJK TC",
            "titleFontSize": 23,
            "titleFontWeight": "normal",
            "titleColor": "black",
            "titlePadding": 9,
            "titleY": 262
          }
        },
        "shape": {
          "field": "g",
          "type": "nominal",
          "scale": {
            "domain": ["0g","0.4g","0.6g","0.8g","2.0g","4.0g"],
            "range": ["square","circle","triangle-up","M0,-1.05L0.24,-0.33L1,-0.33L0.39,0.13L0.62,0.86L0,0.41L-0.62,0.86L-0.39,0.13L-1,-0.33L-0.24,-0.33Z","circle","M0,-1L0.866,-0.5L0.866,0.5L0,1L-0.866,0.5L-0.866,-0.5ZM0,-1L-0.866,-0.5L-0.866,0L0.866,0L0.866,-0.5Z"]
          },
          "legend": {"labelExpr": "'+Cu粉 ' + datum.label"}
        },
        "fill": {
          "field": "g",
          "type": "nominal",
          "scale": {
            "domain": ["0g","0.4g","0.6g","0.8g","2.0g","4.0g"],
            "range": ["#ff0000","#ffffff","#0000ff","#ffffff","#ff8000","#8000ff"]
          },
          "legend": {"labelExpr": "'+Cu粉 ' + datum.label"}
        },
        "stroke": {
          "field": "g",
          "type": "nominal",
          "scale": {
            "domain": ["0g","0.4g","0.6g","0.8g","2.0g","4.0g"],
            "range": ["#ff0000","#00ff00","#0000ff","#008000","#ff8000","#8000ff"]
          },
          "legend": {"labelExpr": "'+Cu粉 ' + datum.label"}
        }
      }
    },
    {
      "data": {"values": [{"t": 0, "v": 0}]},
      "mark": {"type": "point", "opacity": 0},
      "encoding": {
        "x": {
          "field": "t",
          "type": "quantitative",
          "scale": {"domain": [-100, 1337], "nice": false, "zero": false},
          "axis": {
            "orient": "top",
            "title": null,
            "values": [-100,-50,0,50,100,150,200,250,300,350,400,450,500,550,600,650,700,750,800,850,900,950,1000,1050,1100,1150,1200,1250,1300],
            "labels": false,
            "tickSize": {"condition": {"test": "datum.value % 100 === 0", "value": -10}, "value": -5},
            "tickWidth": 2,
            "tickColor": "black",
            "domainColor": "black",
            "domainWidth": 2,
            "grid": false
          }
        },
        "y": {
          "field": "v",
          "type": "quantitative",
          "scale": {"domain": [-20, 280], "nice": false, "zero": false},
          "axis": {
            "orient": "right",
            "title": null,
            "values": [-20,0,20,40,60,80,100,120,140,160,180,200,220,240,260,280],
            "labels": false,
            "tickSize": {"condition": {"test": "datum.value % 40 === 0", "value": -10}, "value": -5},
            "tickWidth": 2,
            "tickColor": "black",
            "domainColor": "black",
            "domainWidth": 2,
            "grid": false
          }
        }
      }
    }
  ]
}
